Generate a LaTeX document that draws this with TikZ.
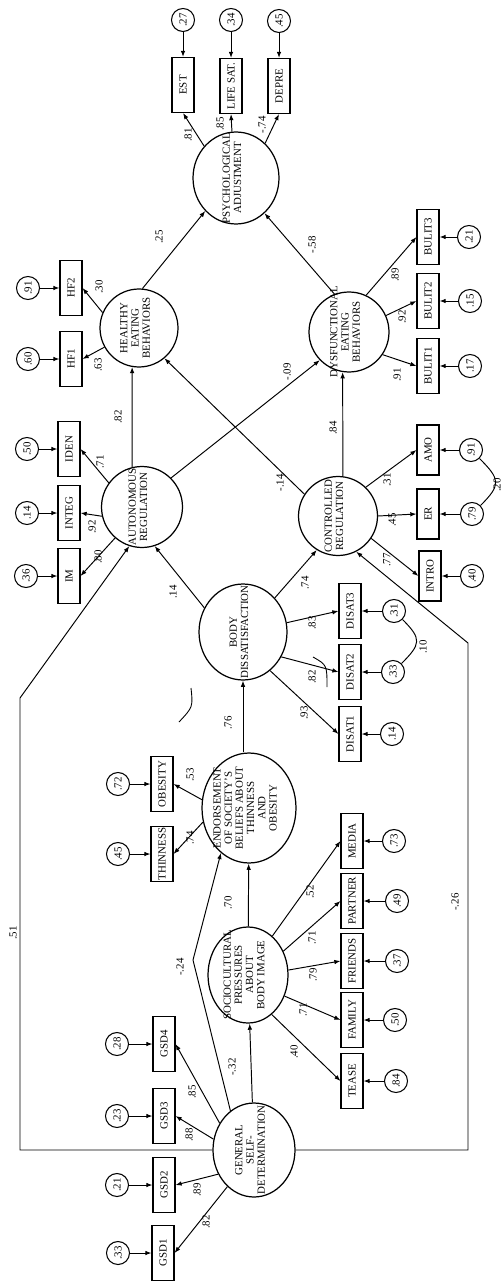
\documentclass[tikz,border=0pt]{standalone}
\usepackage{fontspec}
\setmainfont{Liberation Serif}
\usepackage{tikz}
\usetikzlibrary{shapes.geometric, arrows.meta, calc}
\newcommand{\latname}[1]{\smash{\makebox[0pt]{\begin{tabular}{@{}c@{}}#1\end{tabular}}}}

\begin{document}
\begin{tikzpicture}[
    x=0.02cm, y=-0.02cm,
    latent/.style={
      ellipse, draw, rotate=90, inner sep=0pt, line width=0.7pt,
      font=\fontsize{6.2}{6.4}\selectfont
    },
    ind/.style={
      rectangle, draw, rotate=90, line width=0.6pt, inner sep=0.5pt,
      minimum width=1.1cm, minimum height=0.44cm,
      font=\fontsize{6.2}{6.4}\selectfont
    },
    err/.style={
      circle, draw, rotate=90, line width=0.6pt, inner sep=0pt,
      minimum size=0.46cm, font=\fontsize{6.2}{6.4}\selectfont
    },
    lbl/.style={rotate=90, inner sep=0pt, font=\fontsize{6.2}{6.4}\selectfont},
    arr/.style={-{Latex[length=3.5pt, width=2.6pt]}, line width=0.55pt},
    cov/.style={line width=0.55pt},
  ]
  \useasboundingbox (0,0) rectangle (501,1283);

  % Latent variables
  \node[latent, minimum width=1.84cm, minimum height=1.72cm] (psyadj) at (236,178) {\latname{PSYCHOLOGICAL\\ADJUSTMENT}};
  \node[latent, minimum size=1.56cm] (healthy) at (139,328) {\latname{HEALTHY\\EATING\\BEHAVIORS}};
  \node[latent, minimum size=1.6cm] (dysfunc) at (349,332) {\latname{DYSFUNCTIONAL\\EATING\\BEHAVIORS}};
  \node[latent, minimum size=1.62cm] (autonom) at (142,507) {\latname{AUTONOMOUS\\REGULATION}};
  \node[latent, minimum size=1.58cm] (controlled) at (338,516) {\latname{CONTROLLED\\REGULATION}};
  \node[latent, minimum width=1.92cm, minimum height=1.76cm] (bodydis) at (243,632) {\latname{BODY\\DISSATISFACTION}};
  \node[latent, minimum width=2.2cm, minimum height=1.88cm] (endorse) at (249,808) {\latname{ENDORSEMENT\\OF SOCIETY'S\\BELIEFS ABOUT\\THINNESS\\AND\\OBESITY}};
  \node[latent, minimum width=1.92cm, minimum height=1.6cm] (socio) at (248,975) {\latname{SOCIOCULTURAL\\PRESSURES\\ABOUT\\BODY IMAGE}};
  \node[latent, minimum width=1.88cm, minimum height=1.64cm] (gsd) at (254,1150) {\latname{GENERAL\\SELF-\\DETERMINATION}};

  % Indicators
  \node[ind] (est) at (183,85) {EST};
  \node[ind] (lifesat) at (231,86) {LIFE SAT.};
  \node[ind] (depre) at (279,86) {DEPRE};
  \node[ind] (hf2) at (71,288) {HF2};
  \node[ind] (hf1) at (71,359) {HF1};
  \node[ind] (bulit3) at (428,237) {BULIT3};
  \node[ind] (bulit2) at (428,301) {BULIT2};
  \node[ind] (bulit1) at (428,366) {BULIT1};
  \node[ind] (iden) at (69,449) {IDEN};
  \node[ind] (integ) at (69,513) {INTEG};
  \node[ind] (im) at (69,576) {IM};
  \node[ind, minimum width=1cm] (amo) at (428,450) {AMO};
  \node[ind, minimum width=1cm] (er) at (428,514) {ER};
  \node[ind, minimum width=1cm] (intro) at (430,576) {INTRO};
  \node[ind] (disat3) at (350,611) {DISAT3};
  \node[ind] (disat2) at (350,672) {DISAT2};
  \node[ind] (disat1) at (350,734) {DISAT1};
  \node[ind] (obesity) at (162,784) {OBESITY};
  \node[ind] (thinness) at (162,854) {THINNESS};
  \node[ind] (media) at (352,841) {MEDIA};
  \node[ind] (partner) at (352,901) {PARTNER};
  \node[ind] (friends) at (352,961) {FRIENDS};
  \node[ind] (family) at (352,1020) {FAMILY};
  \node[ind] (tease) at (352,1081) {TEASE};
  \node[ind] (gsd4) at (164,1044) {GSD4};
  \node[ind] (gsd3) at (164,1116) {GSD3};
  \node[ind] (gsd2) at (164,1185) {GSD2};
  \node[ind] (gsd1) at (163,1253) {GSD1};

  % Error terms
  \node[err] (e-est) at ($(est)+(0,-65)$) {.27};
  \node[err] (e-lifesat) at ($(lifesat)+(0,-66)$) {.34};
  \node[err] (e-depre) at ($(depre)+(0,-65)$) {.45};
  \node[err] (e-hf2) at ($(hf2)+(-43,0)$) {.91};
  \node[err] (e-hf1) at ($(hf1)+(-43,0)$) {.60};
  \node[err] (e-bulit3) at ($(bulit3)+(41,0)$) {.21};
  \node[err] (e-bulit2) at ($(bulit2)+(42,0)$) {.15};
  \node[err] (e-bulit1) at ($(bulit1)+(42,0)$) {.17};
  \node[err] (e-iden) at ($(iden)+(-42,0)$) {.50};
  \node[err] (e-integ) at ($(integ)+(-42,0)$) {.14};
  \node[err] (e-im) at ($(im)+(-43,0)$) {.36};
  \node[err] (e-amo) at ($(amo)+(43,0)$) {.91};
  \node[err] (e-er) at ($(er)+(44,0)$) {.79};
  \node[err] (e-intro) at ($(intro)+(42,0)$) {.40};
  \node[err] (e-disat3) at ($(disat3)+(44,0)$) {.31};
  \node[err] (e-disat2) at ($(disat2)+(43,0)$) {.33};
  \node[err] (e-disat1) at ($(disat1)+(42,0)$) {.14};
  \node[err] (e-obesity) at ($(obesity)+(-44,0)$) {.72};
  \node[err] (e-thinness) at ($(thinness)+(-44,0)$) {.45};
  \node[err] (e-media) at ($(media)+(42,0)$) {.73};
  \node[err] (e-partner) at ($(partner)+(45,0)$) {.49};
  \node[err] (e-friends) at ($(friends)+(45,0)$) {.37};
  \node[err] (e-family) at ($(family)+(43,0)$) {.50};
  \node[err] (e-tease) at ($(tease)+(44,0)$) {.84};
  \node[err] (e-gsd4) at ($(gsd4)+(-47,0)$) {.28};
  \node[err] (e-gsd3) at ($(gsd3)+(-47,0)$) {.23};
  \node[err] (e-gsd2) at ($(gsd2)+(-47,0)$) {.21};
  \node[err] (e-gsd1) at ($(gsd1)+(-45,0)$) {.33};

  % Bends of the long paths
  \coordinate (turn51) at (20,698);
  \coordinate (turn26) at (468,643);
  \coordinate (bend24) at (193,960);

  % Structural paths
  \draw[arr] (healthy.-5) -- (psyadj.137);
  \draw[arr] (dysfunc.21) -- (psyadj.219);
  \draw[arr] (autonom.14) -- (healthy.170);
  \draw[arr] (autonom.-45) -- (dysfunc.134);
  \draw[arr] (controlled.57) -- (healthy.220);
  \draw[arr] (controlled.-7) -- (dysfunc.171);
  \draw[arr] (bodydis.58) -- (autonom.198);
  \draw[arr] (bodydis.-43) -- (controlled.148);
  \draw[arr] (endorse.east -| bodydis) -- (bodydis);
  \draw[arr] (socio) -- (endorse);
  \draw[arr] (gsd) -- (socio);
  \draw[arr] (gsd.31) -- (bend24) -- (endorse.148);
  \draw[arr] (gsd.north) -| (turn51) -- (autonom.162);
  \draw[arr] (gsd.south) -| (turn26) -- (controlled.207);

  % Loadings
  \draw[arr] (psyadj.45) -- (est.west);
  \draw[arr] (psyadj.5) -- (lifesat.west);
  \draw[arr] (psyadj.-40) -- (depre.west);
  \draw[arr] (healthy.67) -- (hf2.south);
  \draw[arr] (healthy.119) -- (hf1.south);
  \draw[arr] (dysfunc.-25) -- (bulit3.north);
  \draw[arr] (dysfunc.-66) -- (bulit2.north);
  \draw[arr] (dysfunc.-124) -- (bulit1.north);
  \draw[arr] (autonom.54) -- (iden.south);
  \draw[arr] (autonom.103) -- (integ.south);
  \draw[arr] (autonom.139) -- (im.south);
  \draw[arr] (controlled.-44) -- (amo.north);
  \draw[arr] (controlled.-90) -- (er.north);
  \draw[arr] (controlled.-124) -- (intro.north);
  \draw[arr] (bodydis.-78) -- (disat3.north);
  \draw[arr] (bodydis.-123) -- (disat2.north);
  \draw[arr] (bodydis.-145) -- (disat1.north);
  \draw[arr] (endorse.80) -- (obesity.south);
  \draw[arr] (endorse.107) -- (thinness.south);
  \draw[arr] (socio.-32) -- (media.north);
  \draw[arr] (socio.-56) -- (partner.north);
  \draw[arr] (socio.-83) -- (friends.north);
  \draw[arr] (socio.-120) -- (family.north);
  \draw[arr] (socio.-149) -- (tease.north);
  \draw[arr] (gsd.52) -- (gsd4.south);
  \draw[arr] (gsd.75) -- (gsd3.south);
  \draw[arr] (gsd.124) -- (gsd2.south);
  \draw[arr] (gsd.144) -- (gsd1.south);

  % Errors
  \draw[arr] (e-est) -- (est);
  \draw[arr] (e-lifesat) -- (lifesat);
  \draw[arr] (e-depre) -- (depre);
  \draw[arr] (e-hf2) -- (hf2);
  \draw[arr] (e-hf1) -- (hf1);
  \draw[arr] (e-bulit3) -- (bulit3);
  \draw[arr] (e-bulit2) -- (bulit2);
  \draw[arr] (e-bulit1) -- (bulit1);
  \draw[arr] (e-iden) -- (iden);
  \draw[arr] (e-integ) -- (integ);
  \draw[arr] (e-im) -- (im);
  \draw[arr] (e-amo) -- (amo);
  \draw[arr] (e-er) -- (er);
  \draw[arr] (e-intro) -- (intro);
  \draw[arr] (e-disat3) -- (disat3);
  \draw[arr] (e-disat2) -- (disat2);
  \draw[arr] (e-disat1) -- (disat1);
  \draw[arr] (e-obesity) -- (obesity);
  \draw[arr] (e-thinness) -- (thinness);
  \draw[arr] (e-media) -- (media);
  \draw[arr] (e-partner) -- (partner);
  \draw[arr] (e-friends) -- (friends);
  \draw[arr] (e-family) -- (family);
  \draw[arr] (e-tease) -- (tease);
  \draw[arr] (e-gsd4) -- (gsd4);
  \draw[arr] (e-gsd3) -- (gsd3);
  \draw[arr] (e-gsd2) -- (gsd2);
  \draw[arr] (e-gsd1) -- (gsd1);

  % Correlated errors
  \draw[cov] (e-amo.-135) to[out=-45, in=45, looseness=1.6] (e-er.-45);
  \draw[cov] (e-disat3.-135) to[out=-45, in=45, looseness=1.6] (e-disat2.-45);

  % Stray pen marks
  \draw[line width=0.5pt] (191,688) .. controls (193,707) .. (179,722);
  \draw[line width=0.5pt] (313,657) .. controls (327,665) .. (327,687);

  % Coefficients
  \node[lbl] (w-est) at (188,135) {.81};
  \node[lbl] (w-lifesat) at (220,124) {.85};
  \node[lbl] (w-depre) at (262,125) {-.74};
  \node[lbl] (w-hf2) at (99,287) {.30};
  \node[lbl] (w-hf1) at (98,365) {.63};
  \node[lbl] (w-bulit3) at (395,275) {.89};
  \node[lbl] (w-bulit2) at (402,317) {.92};
  \node[lbl] (w-bulit1) at (397,375) {.91};
  \node[lbl] (w-iden) at (100,462) {.71};
  \node[lbl] (w-integ) at (92,527) {.92};
  \node[lbl] (w-im) at (98,557) {.80};
  \node[lbl] (w-amo) at (387,480) {.31};
  \node[lbl] (w-er) at (392,520) {.45};
  \node[lbl] (w-intro) at (387,560) {.77};
  \node[lbl] (w-disat3) at (312,623) {.83};
  \node[lbl] (w-disat2) at (312,677) {.82};
  \node[lbl] (w-disat1) at (304,713) {.93};
  \node[lbl] (w-obesity) at (190,775) {.53};
  \node[lbl] (w-thinness) at (190,838) {.74};
  \node[lbl] (w-media) at (310,892) {.52};
  \node[lbl] (w-partner) at (312,938) {.71};
  \node[lbl] (w-friends) at (313,975) {.79};
  \node[lbl] (w-family) at (303,1010) {.71};
  \node[lbl] (w-tease) at (294,1052) {.40};
  \node[lbl] (w-gsd4) at (192,1092) {.85};
  \node[lbl] (w-gsd3) at (189,1135) {.88};
  \node[lbl] (w-gsd2) at (197,1190) {.89};
  \node[lbl] (w-gsd1) at (206,1222) {.82};
  \node[lbl] (p-hp) at (159,237) {.25};
  \node[lbl] (p-dp) at (312,245) {-.58};
  \node[lbl] (p-ah) at (118,417) {.82};
  \node[lbl] (p-ad) at (287,372) {-.09};
  \node[lbl] (p-ch) at (280,483) {-.14};
  \node[lbl] (p-cd) at (333,428) {.84};
  \node[lbl] (p-ba) at (173,592) {.14};
  \node[lbl] (p-bc) at (305,583) {.74};
  \node[lbl] (p-eb) at (228,723) {.76};
  \node[lbl] (p-se) at (228,903) {.70};
  \node[lbl] (p-ge) at (180,967) {-.24};
  \node[lbl] (p-gs) at (232,1067) {-.32};
  \node[lbl] (p-ga) at (13,933) {.51};
  \node[lbl] (p-gc) at (455,902) {-.26};
  \node[lbl] (c-amoer) at (497,485) {.20};
  \node[lbl] (c-disat) at (423,647) {.10};

\end{tikzpicture}
\end{document}
